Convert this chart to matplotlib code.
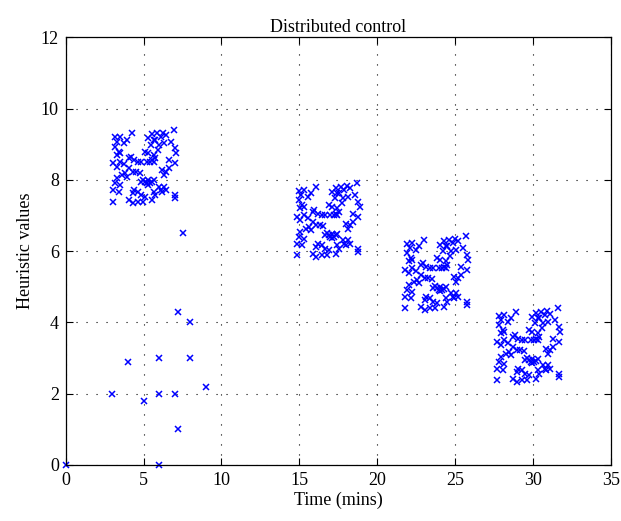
import matplotlib

matplotlib.use("Agg")
import matplotlib.pyplot as plt
import numpy as np

# shape of one cluster (offsets from its lower-left corner)
CLUSTER_DX = [3.87, 2.48, 2.81, 3.19, 1.20, 0.45, 0.12, 0.27, 0.90, 0.68,
              2.25, 2.59, 3.04, 3.37, 3.71, 2.43, 2.93, 3.26, 3.94, 4.05,
              0.12, 0.34, 0.22, 0.45, 2.02, 2.25, 2.59, 2.70, 2.48, 2.14,
              1.80, 1.58, 1.35, 1.02, 0.00, 0.22, 0.45, 1.02, 1.24, 1.46,
              1.69, 0.78, 0.56, 0.90, 3.60, 3.94, 3.15, 3.37, 3.60, 3.26,
              2.93, 3.04, 2.25, 2.14, 2.02, 2.36, 2.59, 1.80, 0.22, 0.12,
              0.45, 0.00, 0.34, 1.35, 1.58, 1.24, 1.80, 2.02, 1.02, 1.24,
              1.58, 1.91, 0.00, 2.59, 2.70, 2.48, 3.26, 3.37, 3.15, 3.94,
              3.94, 2.70, 2.36, 2.59, 1.91, 2.25, 2.48, 1.12, 0.68, 2.86]
CLUSTER_DY = [2.07, 1.94, 1.96, 1.98, 1.96, 1.87, 1.85, 1.73, 1.78, 1.68,
              1.82, 1.78, 1.87, 1.92, 1.73, 1.64, 1.64, 1.68, 1.54, 1.40,
              1.59, 1.45, 1.36, 1.40, 1.45, 1.40, 1.36, 1.26, 1.21, 1.17,
              1.17, 1.17, 1.21, 1.26, 1.12, 1.03, 1.17, 0.98, 0.89, 0.89,
              0.86, 0.84, 0.79, 0.75, 1.21, 1.12, 0.93, 0.89, 0.98, 0.79,
              0.47, 0.37, 0.65, 0.56, 0.61, 0.56, 0.65, 0.61, 0.70, 0.56,
              0.51, 0.37, 0.33, 0.37, 0.33, 0.28, 0.23, 0.19, 0.09, 0.00,
              0.05, 0.05, 0.05, 0.33, 0.23, 0.09, 0.47, 0.37, 0.33, 0.23,
              0.14, 1.78, 1.17, 1.17, 0.66, 0.52, 0.60, 1.31, 1.10, 1.50]

# lower-left corners of the four clusters (time, heuristic value)
CORNER_X = [3.05, 14.85, 21.80, 27.70]
CORNER_Y = [7.34, 5.84, 4.35, 2.33]

# isolated points
LONE_X = [0.0, 7.5, 7.2, 8.0, 4.0, 6.0, 8.0, 9.0, 3.0, 6.0, 7.0, 5.0, 7.2, 6.0]
LONE_Y = [0.0, 6.5, 4.3, 4.0, 2.9, 3.0, 3.0, 2.2, 2.0, 2.0, 2.0, 1.8, 1.0, 0.0]

XTICKS = list(range(0, 36, 5))
YTICKS = list(range(0, 13, 2))

plt.rcParams.update({"font.family": ["Liberation Serif", "DejaVu Serif"],
                     "font.size": 13})

fig = plt.figure(figsize=(6.21, 5.21), dpi=100)
ax = fig.add_axes([0.1058, 0.1075, 0.878, 0.821])

dx = np.array(CLUSTER_DX)
dy = np.array(CLUSTER_DY)
xs = np.concatenate([[cx + v for v in dx] for cx in CORNER_X] + [LONE_X])
ys = np.concatenate([[cy + v for v in dy] for cy in CORNER_Y] + [LONE_Y])

ax.plot(xs, ys, ls="none", marker="x", ms=5, mew=1.1, color="#0000ff", clip_on=False)

ax.set_xlim(0, 35)
ax.set_ylim(0, 12)
ax.set_xticks(XTICKS)
ax.set_yticks(YTICKS)
ax.grid(True, color="black", ls=(0, (1, 8)), lw=0.8)
ax.tick_params(direction="in", length=5, width=0.8, top=True, right=True,
               labelsize=13, pad=5)
for s in ax.spines.values():
    s.set_linewidth(0.9)
ax.set_xlabel("Time (mins)", fontsize=13, labelpad=2)
ax.set_ylabel("Heuristic values", fontsize=13, labelpad=5)
ax.set_title("Distributed control", fontsize=13, pad=4)

fig.savefig("out.png", dpi=100, facecolor="white")
